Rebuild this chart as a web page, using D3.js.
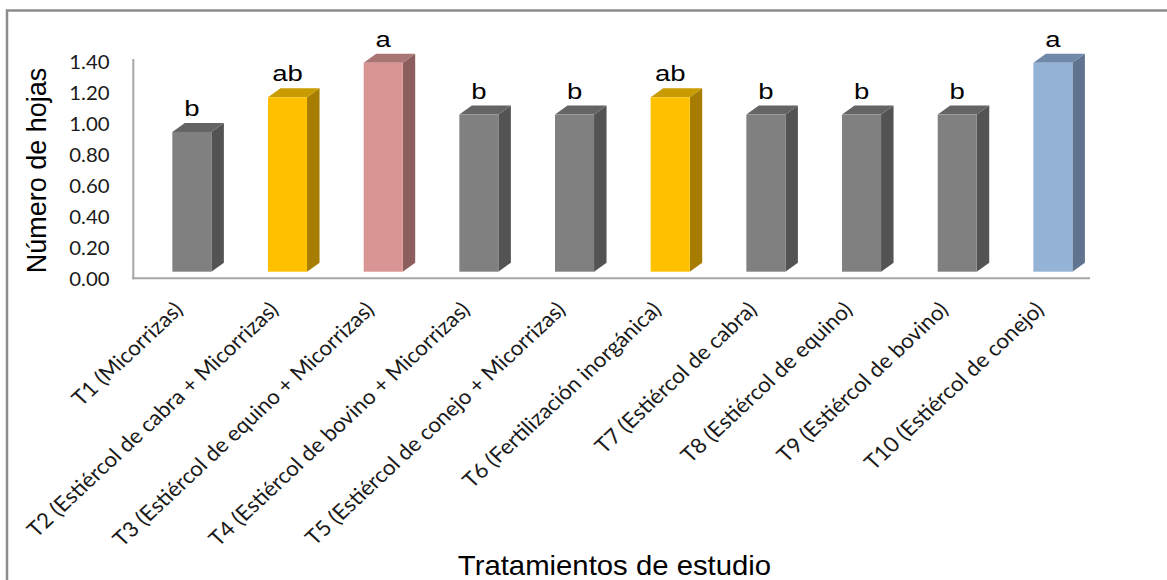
<!DOCTYPE html>
<html>
<head>
<meta charset="utf-8">
<script src="https://cdn.jsdelivr.net/npm/d3@7"></script>
<style>
  html, body { margin: 0; padding: 0; background: #fff; }
  svg { display: block; }
</style>
</head>
<body>
<svg id="chart" width="1167" height="580"></svg>
<script>
// ---- data ----
const categories = [
  "T1 (Micorrizas)",
  "T2 (Estiércol de cabra + Micorrizas)",
  "T3 (Estiércol de equino + Micorrizas)",
  "T4 (Estiércol de bovino + Micorrizas)",
  "T5 (Estiércol de conejo + Micorrizas)",
  "T6 (Fertilización inorgánica)",
  "T7 (Estiércol de cabra)",
  "T8 (Estiércol de equino)",
  "T9 (Estiércol de bovino)",
  "T10 (Estiércol de conejo)"
];
const values = [0.89, 1.11, 1.33, 1.00, 1.00, 1.11, 1.00, 1.00, 1.00, 1.33];
const letters = ["b", "ab", "a", "b", "b", "ab", "b", "b", "b", "a"];
const yTicks = [0.00, 0.20, 0.40, 0.60, 0.80, 1.00, 1.20, 1.40];
const yTitle = "Número de hojas";
const xTitle = "Tratamientos de estudio";

// ---- styles (front, side, top) ----
const GRAY = ["#808080", "#535353", "#646464"];
const YELLOW = ["#FFC000", "#A67D00", "#C89B00"];
const PINK = ["#D99594", "#8C5E5E", "#A87474"];
const BLUE = ["#95B3D7", "#60738F", "#7189A8"];
const barPalette = [GRAY, YELLOW, PINK, GRAY, GRAY, YELLOW, GRAY, GRAY, GRAY, BLUE];

const svg = d3.select("#chart");

// outer frame
svg.append("rect")
  .attr("x", 7).attr("y", 10.5)
  .attr("width", 1200).attr("height", 600)
  .attr("fill", "none").attr("stroke", "#8c8c8c").attr("stroke-width", 2.5);

// scales
const x = d3.scaleBand().domain(categories).range([133.3, 1090]).padding(0);
const yAxisScale = d3.scaleLinear().domain([0, 1.4]).range([279, 61.5]);
const yBar = d3.scaleLinear().domain([0, 1.4]).range([271.7, 271.7 - 1.4 * 157.1]);

const bw = x.bandwidth();
const frontW = bw * 0.408;
const frontOff = bw * 0.408;
const depthX = 12.5, depthY = 9;

// bars
const bars = svg.append("g").selectAll("g.bar")
  .data(categories.map((c, i) => ({ c, v: values[i], l: letters[i], col: barPalette[i] })))
  .join("g").attr("class", "bar");

bars.each(function (d) {
  const g = d3.select(this);
  const x0 = x(d.c) + frontOff;
  const x1 = x0 + frontW;
  const yt = yBar(d.v);
  const yb = yBar(0);
  // side
  g.append("polygon")
    .attr("points", [[x1, yt], [x1 + depthX, yt - depthY], [x1 + depthX, yb - depthY], [x1, yb]].join(" "))
    .attr("fill", d.col[1]);
  // top
  g.append("polygon")
    .attr("points", [[x0, yt], [x0 + depthX, yt - depthY], [x1 + depthX, yt - depthY], [x1, yt]].join(" "))
    .attr("fill", d.col[2]);
  // front
  g.append("rect")
    .attr("x", x0).attr("y", yt).attr("width", frontW).attr("height", yb - yt)
    .attr("fill", d.col[0]);
  // letter
  g.append("text")
    .attr("transform", `translate(${(x0 + x1) / 2},${yt - 16}) scale(1.25,1)`)
    .attr("text-anchor", "middle")
    .attr("font-family", "'Liberation Sans', Arial, sans-serif")
    .attr("font-size", 22)
    .attr("fill", "#000")
    .text(d.l);
});

// axis lines
svg.append("line")
  .attr("x1", 133.3).attr("x2", 133.3).attr("y1", 59).attr("y2", 279.3)
  .attr("stroke", "#a6a6a6").attr("stroke-width", 2);
svg.append("line")
  .attr("x1", 132.3).attr("x2", 1090).attr("y1", 278.3).attr("y2", 278.3)
  .attr("stroke", "#a6a6a6").attr("stroke-width", 2);

// y axis ticks
const yAxisG = svg.append("g")
  .attr("transform", "translate(109.5,0)")
  .call(d3.axisLeft(yAxisScale).tickValues(yTicks).tickSize(0).tickPadding(0).tickFormat(d3.format(".2f")));
yAxisG.select(".domain").remove();
yAxisG.selectAll("text")
  .attr("x", 0)
  .attr("dy", "0.36em")
  .attr("transform", "scale(1.1,1)")
  .attr("font-family", "Lato, 'Open Sans', sans-serif")
  .attr("font-size", 18.5)
  .attr("fill", "#1a1a1a");

// x axis labels
const xAxisG = svg.append("g")
  .attr("transform", "translate(0,311)")
  .call(d3.axisBottom(x).tickSize(0).tickPadding(0));
xAxisG.select(".domain").remove();
xAxisG.selectAll("text")
  .attr("x", 0).attr("y", 0).attr("dy", 0)
  .attr("text-anchor", "end")
  .attr("transform", "translate(3,0) scale(1.07,1) rotate(-45)")
  .attr("font-family", "Lato, 'Open Sans', sans-serif")
  .attr("font-size", 21)
  .attr("fill", "#1a1a1a");

// axis titles
svg.append("text")
  .attr("transform", "translate(46,170.5) rotate(-90)")
  .attr("text-anchor", "middle")
  .attr("font-family", "'Liberation Sans', Arial, sans-serif")
  .attr("font-size", 27)
  .attr("fill", "#000")
  .text(yTitle);

svg.append("text")
  .attr("transform", "translate(614.5,575) scale(1.086,1)")
  .attr("text-anchor", "middle")
  .attr("font-family", "'Liberation Sans', Arial, sans-serif")
  .attr("font-size", 27)
  .attr("fill", "#000")
  .text(xTitle);
</script>
</body>
</html>
